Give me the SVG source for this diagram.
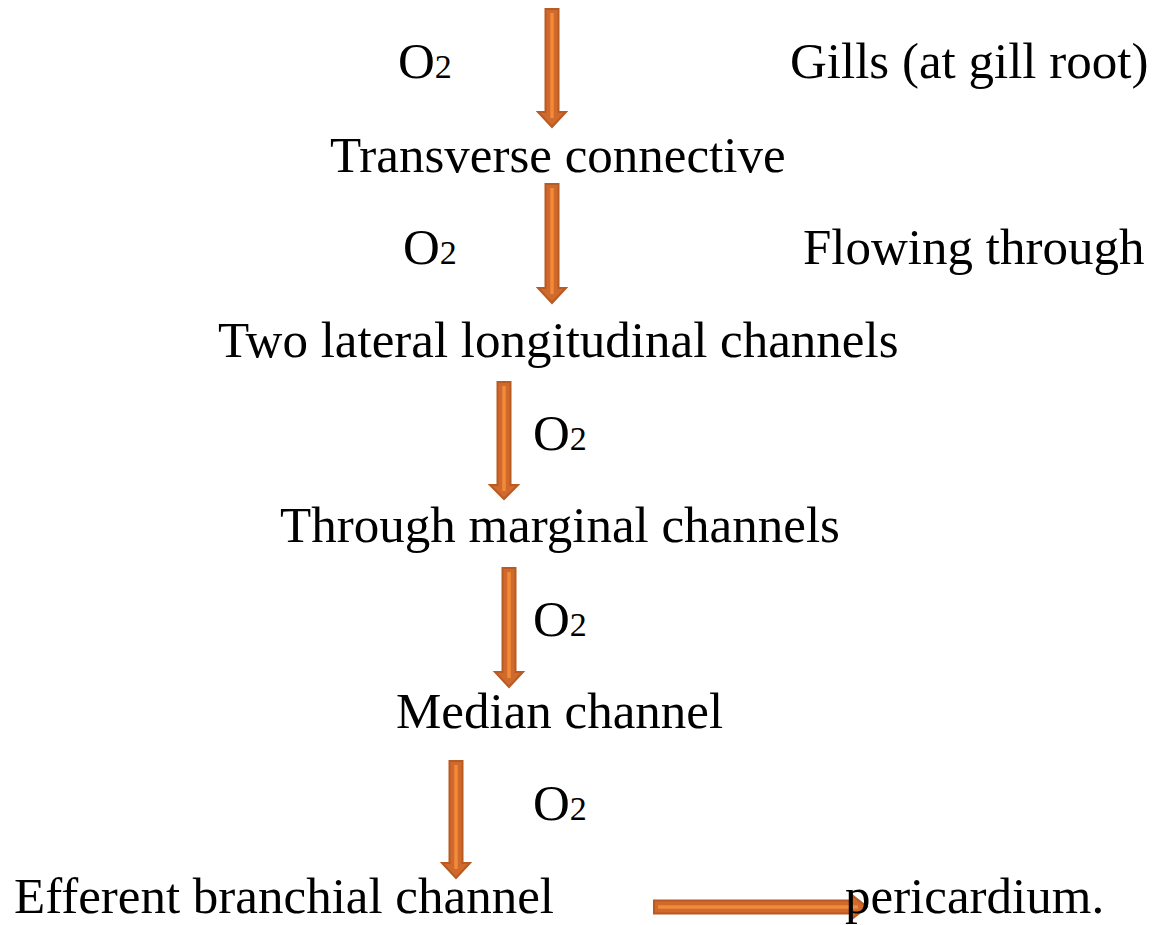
<svg xmlns="http://www.w3.org/2000/svg" width="1155" height="925" viewBox="0 0 1155 925">
<style>
text{font-family:"Liberation Serif","Times New Roman",serif;font-size:51px;fill:#000}
.s{font-size:34px}
.arr{fill:#d06a2c;stroke:#b85a22;stroke-width:2;stroke-linejoin:miter}
.hl{stroke:#f28a3a;stroke-width:3.5;fill:none}
</style>
<rect width="1155" height="925" fill="#fff"/>
<g id="connectors">
<g id="a1"><polygon class="arr" points="545.5,9 558.5,9 558.5,112 566,112 552,127 538,112 545.5,112"/><line class="hl" x1="552" y1="13" x2="552" y2="118"/></g>
<g id="a2"><polygon class="arr" points="545.5,184 558.5,184 558.5,288 566,288 552,303 538,288 545.5,288"/><line class="hl" x1="552" y1="188" x2="552" y2="294"/></g>
<g id="a3"><polygon class="arr" points="497.5,382 510.5,382 510.5,485 518,485 504,499 490,485 497.5,485"/><line class="hl" x1="504" y1="386" x2="504" y2="491"/></g>
<g id="a4"><polygon class="arr" points="502.5,568 515.5,568 515.5,672 523,672 509,687 495,672 502.5,672"/><line class="hl" x1="509" y1="572" x2="509" y2="678"/></g>
<g id="a5"><polygon class="arr" points="449.5,761 462.5,761 462.5,863 470,863 456,878 442,863 449.5,863"/><line class="hl" x1="456" y1="765" x2="456" y2="869"/></g>
<g id="a6"><polygon class="arr" points="654,900.5 852,900.5 852,895 867,907 852,919 852,913.5 654,913.5"/><line class="hl" x1="658" y1="907" x2="858" y2="907"/></g>
</g>
<g id="n-o2-1"><text x="398" y="78">O<tspan class="s">2</tspan></text></g>
<g id="n-gills"><text x="790" y="78">Gills (at gill root)</text></g>
<g id="n-transverse"><text x="330" y="172">Transverse connective</text></g>
<g id="n-o2-2"><text x="403" y="264">O<tspan class="s">2</tspan></text></g>
<g id="n-flowing"><text x="803" y="264">Flowing through</text></g>
<g id="n-lateral"><text x="218" y="357">Two lateral longitudinal channels</text></g>
<g id="n-o2-3"><text x="533" y="450">O<tspan class="s">2</tspan></text></g>
<g id="n-marginal"><text x="280" y="542">Through marginal channels</text></g>
<g id="n-o2-4"><text x="533" y="636">O<tspan class="s">2</tspan></text></g>
<g id="n-median"><text x="396" y="728">Median channel</text></g>
<g id="n-o2-5"><text x="533" y="820">O<tspan class="s">2</tspan></text></g>
<g id="n-efferent"><text x="14" y="913">Efferent branchial channel</text></g>
<g id="n-pericardium"><text x="845" y="913">pericardium.</text></g>
</svg>
